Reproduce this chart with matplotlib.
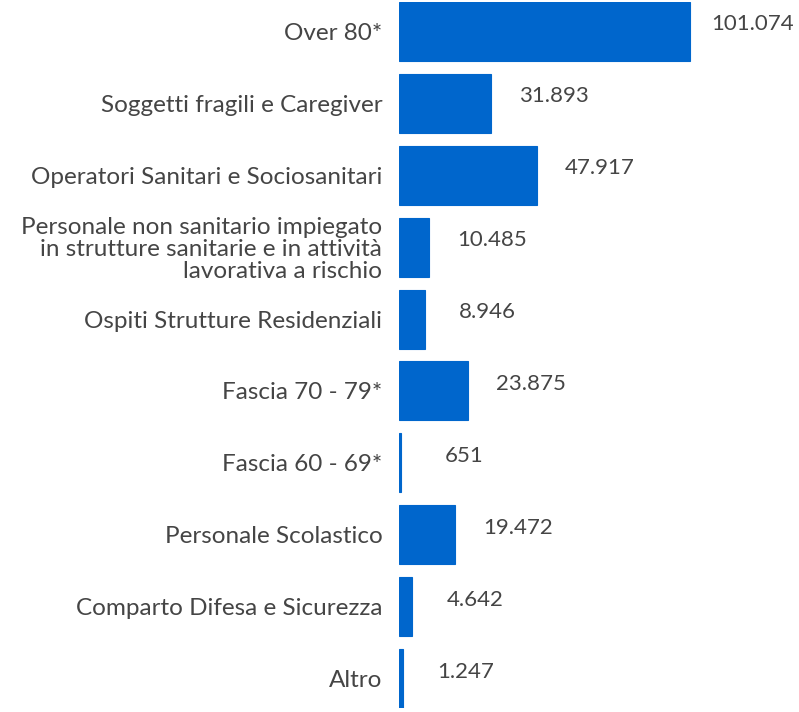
import matplotlib.pyplot as plt

# Categorie e valori
categorie = [
    'Over 80*',
    'Soggetti fragili e Caregiver',
    'Operatori Sanitari e Sociosanitari',
    'Personale non sanitario impiegato\nin strutture sanitarie e in attività\nlavorativa a rischio',
    'Ospiti Strutture Residenziali',
    'Fascia 70 - 79*',
    'Fascia 60 - 69*',
    'Personale Scolastico',
    'Comparto Difesa e Sicurezza',
    'Altro',
]
valori = [101074, 31893, 47917, 10485, 8946, 23875, 651, 19472, 4642, 1247]
etichette = ['101.074', '31.893', '47.917', '10.485', '8.946', '23.875', '651', '19.472', '4.642', '1.247']

plt.rcParams['font.family'] = ['Lato', 'DejaVu Sans']
colore = '#0066CC'
grigio = '#454545'

fig = plt.figure(figsize=(7.99, 7.12), dpi=100)
ax = fig.add_axes([399 / 799, 4 / 712, 400 / 799, 706 / 712])

pos = range(len(categorie))
ax.barh(pos, valori, height=0.82, color=colore, edgecolor=colore, linewidth=0.8)

xmax = 400 / 291 * 101074
ax.set_xlim(0, xmax)
ax.set_ylim(9.41, -0.41)

ax.set_yticks(list(pos))
ax.set_yticklabels(categorie, fontsize=17.5, color=grigio, ha='right', linespacing=1.05)
ax.tick_params(axis='y', length=0, pad=12)
ax.set_xticks([])
for s in ax.spines.values():
    s.set_visible(False)

# Etichette dei valori
for i, (v, t) in enumerate(zip(valori, etichette)):
    ax.annotate(t, xy=(v, i), xytext=(63, 7), textcoords='offset pixels',
                ha='center', va='center', fontsize=16, color=grigio)

fig.savefig('out.png', dpi=100)
